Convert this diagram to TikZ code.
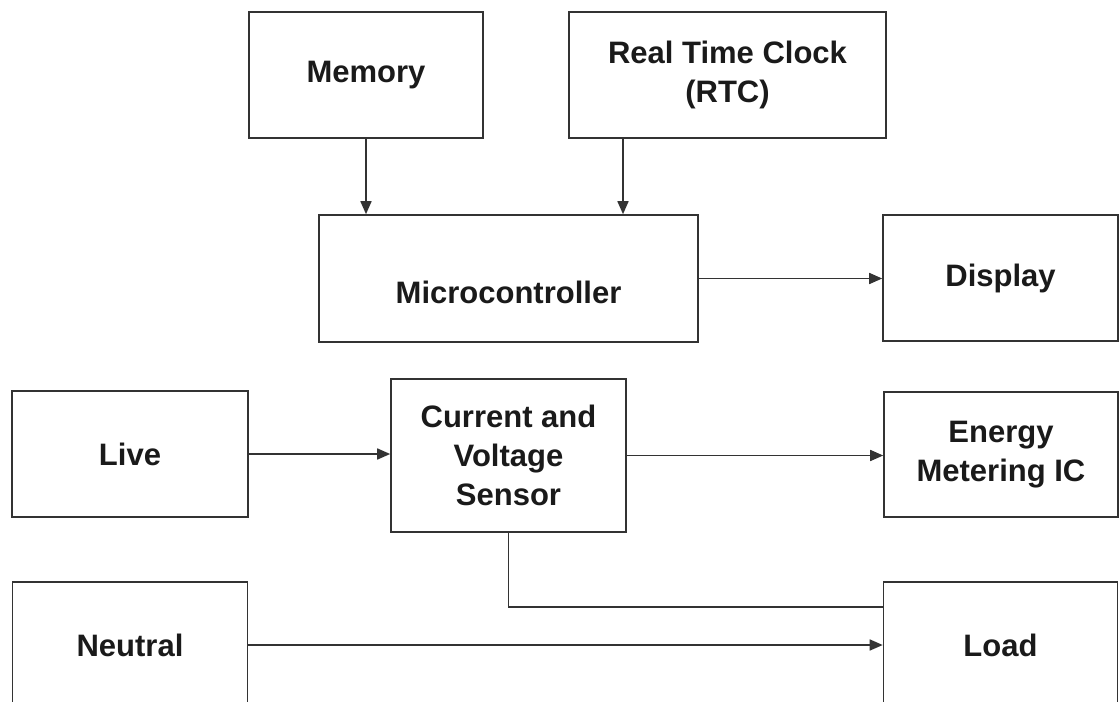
\documentclass[tikz,border=0pt]{standalone}
\usepackage{fontspec}
\setmainfont{Liberation Sans}
\usetikzlibrary{arrows.meta}
\definecolor{ln}{HTML}{333333}
\definecolor{tx}{HTML}{1A1A1A}
\begin{document}
\begin{tikzpicture}[x=1pt,y=-1pt,
  box/.style={draw=ln,line width=1.6pt,rectangle,inner sep=0pt,align=center,
    font=\fontsize{31}{39}\selectfont\bfseries,text=tx,
    minimum width=235pt,minimum height=126pt},
  arr/.style={draw=ln,line width=1.6pt,-{Triangle[length=13pt,width=11pt]}},
  wire/.style={draw=ln,line width=1.6pt}]
\clip (0,0) rectangle (1120,702);
\fill[white] (0,0) rectangle (1120,702);
\node[box,minimum width=234pt] (mem) at (366,75) {Memory};
\node[box,minimum width=317pt] (rtc) at (727.5,75) {Real Time Clock\\(RTC)};
\node[box,minimum width=379pt,minimum height=127pt] (micro) at (508.5,278.5) {\raisebox{-25pt}[0pt][0pt]{Microcontroller}};
\node[box] (disp) at (1000.5,278) {Display};
\node[box,minimum width=236pt] (live) at (130,454) {Live};
\node[box,minimum height=153pt] (sens) at (508.5,455.5) {Current and\\Voltage\\Sensor};
\node[box,minimum width=234pt,minimum height=125pt] (emic) at (1001,454.5) {Energy\\Metering IC};
\node[box] (neut) at (130,645) {Neutral};
\node[box,minimum width=234pt] (load) at (1000.5,645) {Load};
\draw[arr] (mem.south) -- (mem.south |- micro.north);
\draw[arr] ([xshift=-104.5pt]rtc.south) -- ([xshift=-104.5pt]rtc.south |- micro.north);
\draw[arr] (micro.east) -- (micro.east -| disp.west);
\draw[arr] (live.east) -- (live.east -| sens.west);
\draw[arr] (sens.east) -- (sens.east -| emic.west);
\draw[wire] (sens.south) |- ([yshift=38pt]load.west);
\draw[arr] (neut.east) -- (neut.east -| load.west);
\end{tikzpicture}
\end{document}
